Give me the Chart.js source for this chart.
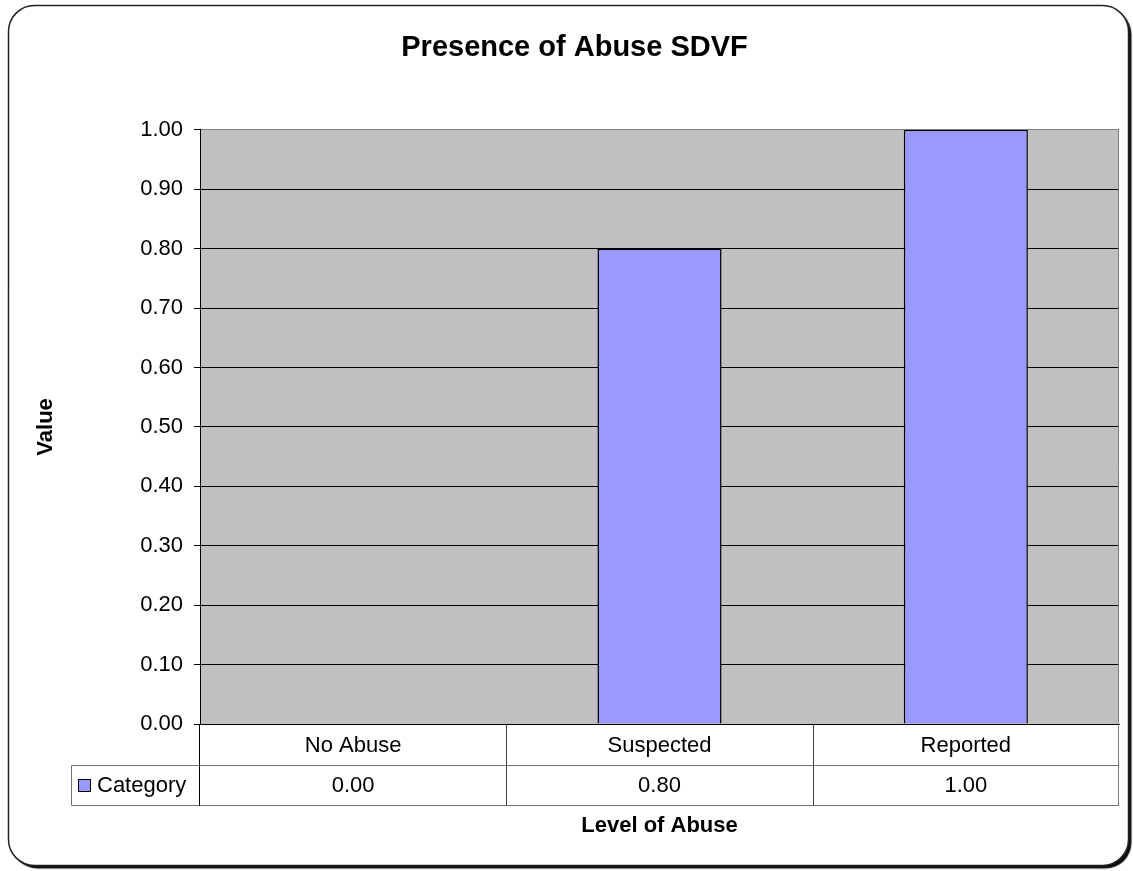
<!DOCTYPE html>
<html>
<head>
<meta charset="utf-8">
<title>Presence of Abuse SDVF</title>
<script src="https://cdn.jsdelivr.net/npm/chart.js@4"></script>
<style>
  html, body { margin: 0; padding: 0; background: #fff; }
  canvas { display: block; }
</style>
</head>
<body>
<canvas id="grafica" width="1133" height="871"></canvas>
<script>
const chartTitle = 'Presence of Abuse SDVF';
const categories = ['No Abuse', 'Suspected', 'Reported'];
const seriesName = 'Category';
const values = [0.00, 0.80, 1.00];
const yMin = 0, yMax = 1, yStep = 0.1;
const yTitle = 'Value';
const xTitle = 'Level of Abuse';

const FONT = '"Liberation Sans", Arial, sans-serif';
const BAR_FILL = '#9999FF';

// rounded frame with a drop shadow, then the gray plot background
const frame = {
    id: 'frame',
    beforeDraw(chart) {
        const ctx = chart.ctx;
        const a = chart.chartArea;
        ctx.save();
        ctx.fillStyle = '#fff';
        ctx.fillRect(0, 0, chart.width, chart.height);
        ctx.beginPath();
        ctx.roundRect(8.5, 5.5, 1120, 860, 26);
        ctx.shadowColor = 'rgba(0,0,0,0.95)';
        ctx.shadowOffsetX = 3;
        ctx.shadowOffsetY = 3;
        ctx.shadowBlur = 1;
        ctx.fill();
        ctx.shadowColor = 'transparent';
        ctx.lineWidth = 1.5;
        ctx.strokeStyle = '#222';
        ctx.stroke();
        ctx.fillStyle = '#C0C0C0';
        ctx.fillRect(a.left, a.top, a.right - a.left, a.bottom - a.top);
        ctx.restore();
    }
};

// data table under the x axis: category row, then legend key + values row
const dataTable = {
    id: 'dataTable',
    afterDraw(chart) {
        const ctx = chart.ctx;
        const xs = chart.scales.x;
        const a = chart.chartArea;
        const row1 = a.bottom, row2 = row1 + 41, row3 = row2 + 40;
        const keyLeft = 71.5;
        const half = (xs.right - xs.left) / categories.length / 2;

        ctx.save();
        ctx.lineWidth = 1;

        // right edge of the plot area
        ctx.strokeStyle = '#808080';
        ctx.beginPath();
        ctx.moveTo(Math.round(xs.right) - 0.5, a.top);
        ctx.lineTo(Math.round(xs.right) - 0.5, row3);
        ctx.stroke();

        ctx.strokeStyle = '#707070';
        ctx.beginPath();
        ctx.moveTo(keyLeft, Math.round(row2) + 0.5);
        ctx.lineTo(xs.right, Math.round(row2) + 0.5);
        ctx.moveTo(keyLeft, Math.round(row3) + 0.5);
        ctx.lineTo(xs.right, Math.round(row3) + 0.5);
        ctx.moveTo(keyLeft, Math.round(row2) + 0.5);
        ctx.lineTo(keyLeft, Math.round(row3) + 0.5);
        ctx.stroke();

        ctx.strokeStyle = '#404040';
        ctx.beginPath();
        for (let i = 1; i < categories.length; i++) {
            const bx = Math.round(xs.getPixelForValue(i) - half) + 0.5;
            ctx.moveTo(bx, row1);
            ctx.lineTo(bx, row3);
        }
        ctx.stroke();

        ctx.strokeStyle = '#000';
        ctx.beginPath();
        ctx.moveTo(Math.round(xs.left) - 0.5, row1);
        ctx.lineTo(Math.round(xs.left) - 0.5, row3 + 0.5);
        ctx.stroke();

        ctx.fillStyle = '#000';
        ctx.font = '22px ' + FONT;
        ctx.textAlign = 'center';
        ctx.textBaseline = 'middle';
        categories.forEach((c, i) => {
            const cx = xs.getPixelForValue(i);
            ctx.fillText(c, cx, (row1 + row2) / 2 + 1);
            ctx.fillText(values[i].toFixed(2), cx, (row2 + row3) / 2 + 1);
        });

        // legend key
        ctx.fillStyle = BAR_FILL;
        ctx.fillRect(78.5, 779.5, 12, 12);
        ctx.strokeStyle = '#000';
        ctx.strokeRect(78.5, 779.5, 12, 12);
        ctx.fillStyle = '#000';
        ctx.textAlign = 'left';
        ctx.fillText(seriesName, 97, (row2 + row3) / 2 + 1);
        ctx.restore();
    }
};

new Chart(document.getElementById('grafica'), {
    type: 'bar',
    data: {
        labels: categories,
        datasets: [{
            label: seriesName,
            data: values,
            backgroundColor: BAR_FILL,
            borderColor: '#000',
            borderWidth: 1.5,
            barPercentage: 0.405,
            categoryPercentage: 1
        }]
    },
    options: {
        responsive: false,
        animation: false,
        layout: { padding: { top: 0, left: 30, right: 14, bottom: 0 } },
        plugins: {
            legend: { display: false },
            tooltip: { enabled: false },
            title: {
                display: true,
                text: chartTitle,
                color: '#000',
                font: { family: FONT, size: 29, weight: 'bold' },
                padding: { top: 31, bottom: 64 }
            }
        },
        scales: {
            x: {
                grid: { display: false },
                border: { display: true, color: '#000', width: 1 },
                ticks: { display: false },
                title: {
                    display: true,
                    text: xTitle,
                    color: '#000',
                    font: { family: FONT, size: 22, weight: 'bold' },
                    padding: { top: 0, bottom: 32 }
                },
                afterFit(scale) { scale.height = 147; }
            },
            y: {
                min: yMin,
                max: yMax,
                ticks: {
                    stepSize: yStep,
                    color: '#000',
                    padding: 11,
                    font: { family: FONT, size: 22 },
                    callback: v => v.toFixed(2)
                },
                grid: {
                    color: c => (c.tick && c.tick.value >= yMax - 1e-9) ? '#808080' : '#000',
                    tickColor: '#000',
                    tickLength: 6,
                    lineWidth: 1
                },
                border: { display: true, color: '#000', width: 1 },
                title: {
                    display: true,
                    text: yTitle,
                    color: '#000',
                    font: { family: FONT, size: 22, weight: 'bold' },
                    padding: { top: 3, bottom: 0 }
                },
                afterFit(scale) { scale.width = 170; }
            }
        }
    },
    plugins: [frame, dataTable]
});
</script>
</body>
</html>
